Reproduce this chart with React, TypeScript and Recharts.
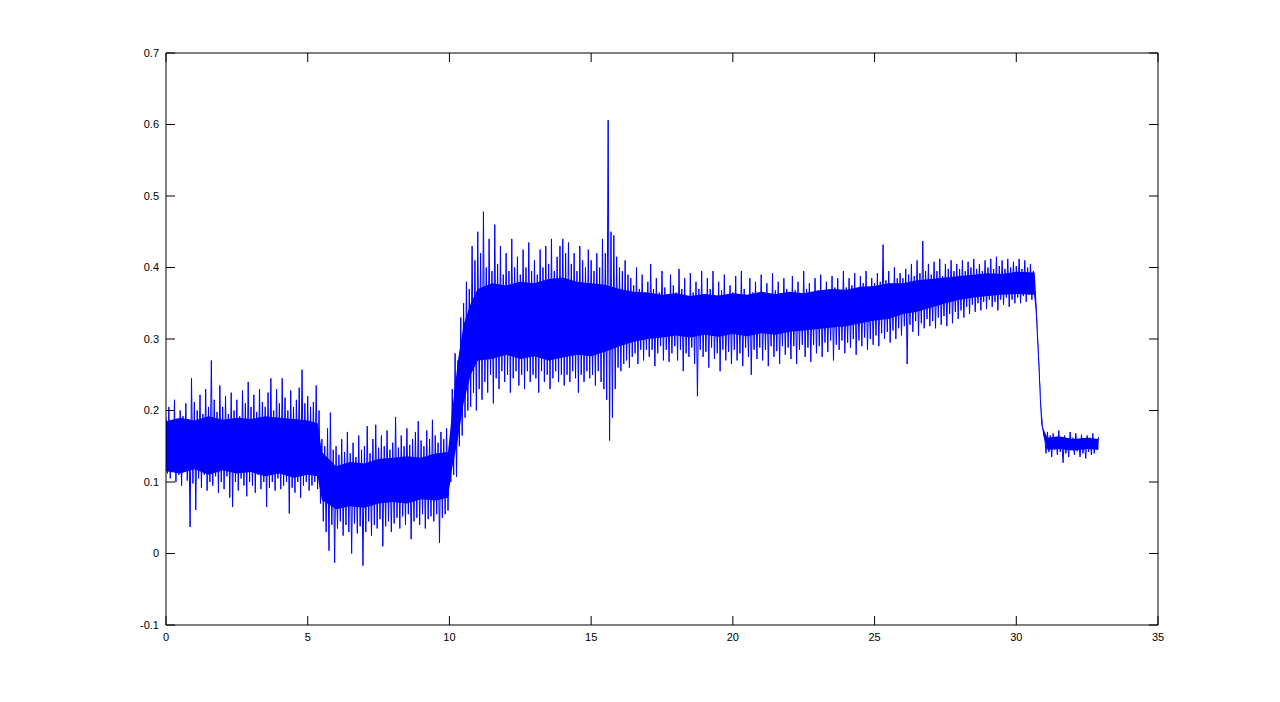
import { Area, ComposedChart, Line, XAxis, YAxis } from "recharts";

// sample spacing in seconds; values below are in thousandths
const SAMPLE_STEP = 0.05;

const xTicks = [0, 5, 10, 15, 20, 25, 30, 35];
const yTicks = [-0.1, 0, 0.1, 0.2, 0.3, 0.4, 0.5, 0.6, 0.7];

// 0 – 5.35 s
const baseline = [
  190, 112, 205, 105, 185, 118, 215, 100, 178, 110, 200, 95, 192, 120, 210, 102, 188, 37, 245, 98,
  212, 61, 200, 105, 222, 92, 195, 110, 230, 88, 205, 100, 270, 95, 215, 108, 198, 85, 235, 100,
  205, 90, 220, 108, 195, 78, 225, 65, 200, 100, 215, 88, 192, 105, 228, 95, 210, 80, 240, 100,
  205, 95, 222, 85, 198, 110, 230, 90, 212, 100, 205, 65, 225, 92, 245, 100, 200, 88, 230, 105,
  210, 90, 245, 95, 218, 100, 200, 56, 228, 92, 205, 85, 215, 100, 232, 78, 257, 95, 210, 100,
  220, 88, 205, 95, 212, 100, 235, 90,
];

// 5.4 – 9.95 s
const dip = [
  200, 70, 160, 45, 150, 30, 175, 4, 197, 40, 145, -13,
  150, 35, 138, 45, 160, 25, 142, 40, 170, 30, 140, 0, 155, 42, 135, 28, 165, 38, 145, -17,
  150, 30, 178, 45, 140, 25, 160, 40, 180, 35, 148, 48, 165, 10, 150, 38, 172, 45, 145, 30,
  155, 42, 191, 50, 148, 35, 165, 52, 150, 40, 175, 55, 152, 20, 160, 45, 170, 50, 185, 40,
  158, 55, 150, 35, 172, 48, 160, 52, 187, 45, 165, 55, 155, 15, 170, 50, 160, 55, 175, 60,
];

// 10 – 10.75 s
const rise = [150, 100, 230, 110, 280, 107, 270, 150, 330, 165, 350, 190, 380, 200, 370, 205];

// 10.8 – 16.45 s
const burst = [
  430, 225, 410, 200, 450, 230, 420, 215, 478, 240, 400, 225, 440, 250, 395, 210, 460, 245, 405, 230, 430, 255, 390, 240,
  420, 250, 395, 225, 440, 245, 400, 255, 415, 235, 390, 250, 425, 230, 400, 255, 435, 240, 395, 250,
  410, 245, 390, 225, 425, 255, 400, 240, 430, 250, 405, 230, 440, 245, 395, 255, 415, 240, 430, 250,
  440, 235, 420, 250, 435, 240, 405, 255, 420, 245, 395, 225, 430, 250, 410, 240, 400, 255, 425, 245,
  410, 250, 395, 235, 420, 255, 400, 240, 440, 230, 420, 215, 606, 158, 450, 190, 445, 230, 415, 260,
  400, 255, 395, 265, 410, 270, 390, 260, 385, 275,
];

// 16.5 – 22.95 s
const plateauEarly = [
  375, 280, 400, 265, 370, 285, 390, 270, 365, 285,
  380, 275, 405, 285, 370, 262, 385, 280, 365, 290, 395, 270, 372, 285, 360, 268, 390, 280, 375, 290,
  365, 270, 398, 285, 370, 255, 385, 280, 360, 275, 392, 288, 365, 265, 380, 220, 370, 285, 395, 275,
  360, 282, 385, 260, 370, 288, 395, 272, 360, 280, 380, 255, 368, 285, 390, 270, 362, 282, 375, 265,
  365, 285, 388, 270, 360, 280, 395, 262, 370, 288, 358, 275, 385, 250, 365, 285, 380, 272, 362, 288,
  390, 270, 365, 285, 378, 262, 360, 290, 392, 275, 368, 283, 380, 265, 362, 290, 385, 278, 370, 288,
  360, 272, 388, 290, 368, 265, 380, 285, 362, 292, 395, 275, 370, 288, 378, 268, 365, 292, 385, 280,
];

// 23 – 30.65 s
const plateauLate = [
  368, 290, 390, 275, 365, 295, 380, 282, 370, 298, 388, 270, 372, 292, 385, 285, 368, 298, 395, 280,
  372, 295, 385, 288, 375, 300, 392, 278, 370, 298, 388, 290, 378, 302, 395, 285, 372, 300, 385, 292,
  378, 305, 392, 290, 380, 308, 432, 300, 382, 310, 395, 295, 378, 312, 400, 300, 385, 315, 392, 305,
  385, 318, 398, 265, 390, 320, 405, 310, 388, 325, 410, 305, 392, 322, 437, 315, 395, 328, 405, 318,
  390, 325, 408, 315, 395, 330, 412, 320, 388, 332, 405, 318, 398, 335, 410, 322, 395, 338, 405, 328,
  398, 340, 410, 330, 395, 345, 408, 335, 400, 348, 412, 338, 398, 350, 405, 340, 395, 352, 410, 342,
  400, 355, 412, 345, 398, 352, 415, 340, 402, 355, 410, 348, 398, 358, 412, 345, 400, 355, 408, 350,
  402, 358, 412, 350, 398, 360, 410, 352, 400, 362, 405, 355, 395, 360,
];

// 30.7 – 31.0 s
const fall = [340, 300, 262, 215, 180, 172, 165];

// 31.05 – 32.9 s
const tail = [
  140, 170, 142, 165, 135, 168, 145, 160, 138, 172, 142, 162, 127, 165, 140, 158, 135, 170, 145, 162,
  138, 168, 143, 160, 135, 166, 140, 158, 133, 165, 142, 162, 138, 168, 140, 160, 145, 163,
];

// dense core of the trace (where the samples overlap into solid blue)
const coreTime = [
  0, 0.5, 1, 1.5, 2, 2.5, 3, 3.5, 4, 4.5, 5, 5.35,
  5.5, 6, 6.5, 7, 7.5, 8, 8.5, 9, 9.5, 9.95,
  10.1, 10.3, 10.5, 10.75,
  11, 11.5, 12, 12.5, 13, 13.5, 14, 14.5, 15, 15.5, 16, 16.5,
  17, 17.5, 18, 18.5, 19, 19.5, 20, 20.5, 21, 21.5, 22, 22.5, 23, 23.5,
  24, 24.5, 25, 25.5, 26, 26.5, 27, 27.5, 28, 28.5, 29, 29.5, 30, 30.65,
  30.72, 30.8, 30.88, 30.95, 31.1, 31.5, 32, 32.5, 32.9,
];
const coreLow = [
  115, 112, 118, 110, 116, 112, 114, 108, 112, 106, 110, 108,
  75, 62, 66, 64, 70, 72, 70, 76, 74, 78,
  120, 160, 210, 250,
  270, 272, 278, 272, 276, 270, 274, 278, 276, 282, 290, 296,
  300, 302, 305, 302, 306, 303, 307, 304, 308, 306, 310, 312, 314, 316,
  318, 322, 326, 328, 335, 338, 344, 350, 355, 358, 360, 362, 363, 362,
  330, 260, 195, 165, 145, 146, 144, 146, 145,
];
const coreHigh = [
  185, 190, 186, 192, 187, 190, 188, 192, 190, 188, 186, 182,
  142, 122, 128, 126, 132, 134, 136, 134, 140, 142,
  200, 270, 320, 350,
  370, 378, 375, 380, 378, 384, 386, 380, 378, 376, 370, 366,
  365, 362, 364, 360, 363, 361, 364, 362, 366, 363, 366, 364, 368, 370,
  369, 373, 374, 378, 378, 382, 384, 386, 388, 390, 392, 391, 394, 393,
  345, 275, 205, 175, 162, 164, 160, 162, 160,
];

const signal = [...baseline, ...dip, ...rise, ...burst, ...plateauEarly, ...plateauLate, ...fall, ...tail];
const data = signal.map((v, i) => ({ t: i * SAMPLE_STEP, v: v / 1000 }));
const coreData = coreTime.map((t, i) => ({ t, band: [coreLow[i] / 1000, coreHigh[i] / 1000] }));

const tickStyle = { fill: "#000", fontSize: 11, fontFamily: "Arial, 'Liberation Sans', sans-serif" };
const axisLine = { stroke: "#000" };

export default function App() {
  return (
    <div style={{ position: "absolute", left: 0, top: 0, width: 1280, height: 702, background: "#fff" }}>
      <ComposedChart width={1280} height={702} data={data} margin={{ top: 43, right: 112, left: 116, bottom: 47 }}>
        <XAxis
          xAxisId="b"
          dataKey="t"
          type="number"
          domain={[0, 35]}
          ticks={xTicks}
          allowDataOverflow
          height={30}
          tickSize={-9}
          tickMargin={17}
          axisLine={axisLine}
          tickLine={axisLine}
          tick={tickStyle}
        />
        <XAxis
          xAxisId="t"
          dataKey="t"
          orientation="top"
          type="number"
          domain={[0, 35]}
          ticks={xTicks}
          allowDataOverflow
          height={10}
          tickSize={-9}
          axisLine={axisLine}
          tickLine={axisLine}
          tickFormatter={() => ""}
        />
        <YAxis
          yAxisId="l"
          type="number"
          domain={[-0.1, 0.7]}
          ticks={yTicks}
          allowDataOverflow
          width={50}
          tickSize={-9}
          tickMargin={16}
          axisLine={axisLine}
          tickLine={axisLine}
          tick={tickStyle}
          tickFormatter={(v: number) => String(Math.round(v * 10) / 10)}
        />
        <YAxis
          yAxisId="r"
          orientation="right"
          type="number"
          domain={[-0.1, 0.7]}
          ticks={yTicks}
          allowDataOverflow
          width={10}
          tickSize={-9}
          axisLine={axisLine}
          tickLine={axisLine}
          tickFormatter={() => ""}
        />
        <Area
          xAxisId="b"
          yAxisId="l"
          data={coreData}
          type="linear"
          dataKey="band"
          stroke="none"
          fill="#0000ff"
          fillOpacity={1}
          isAnimationActive={false}
        />
        <Line
          xAxisId="b"
          yAxisId="l"
          type="linear"
          dataKey="v"
          stroke="#0000ff"
          strokeWidth={1}
          dot={false}
          isAnimationActive={false}
        />
      </ComposedChart>
    </div>
  );
}
